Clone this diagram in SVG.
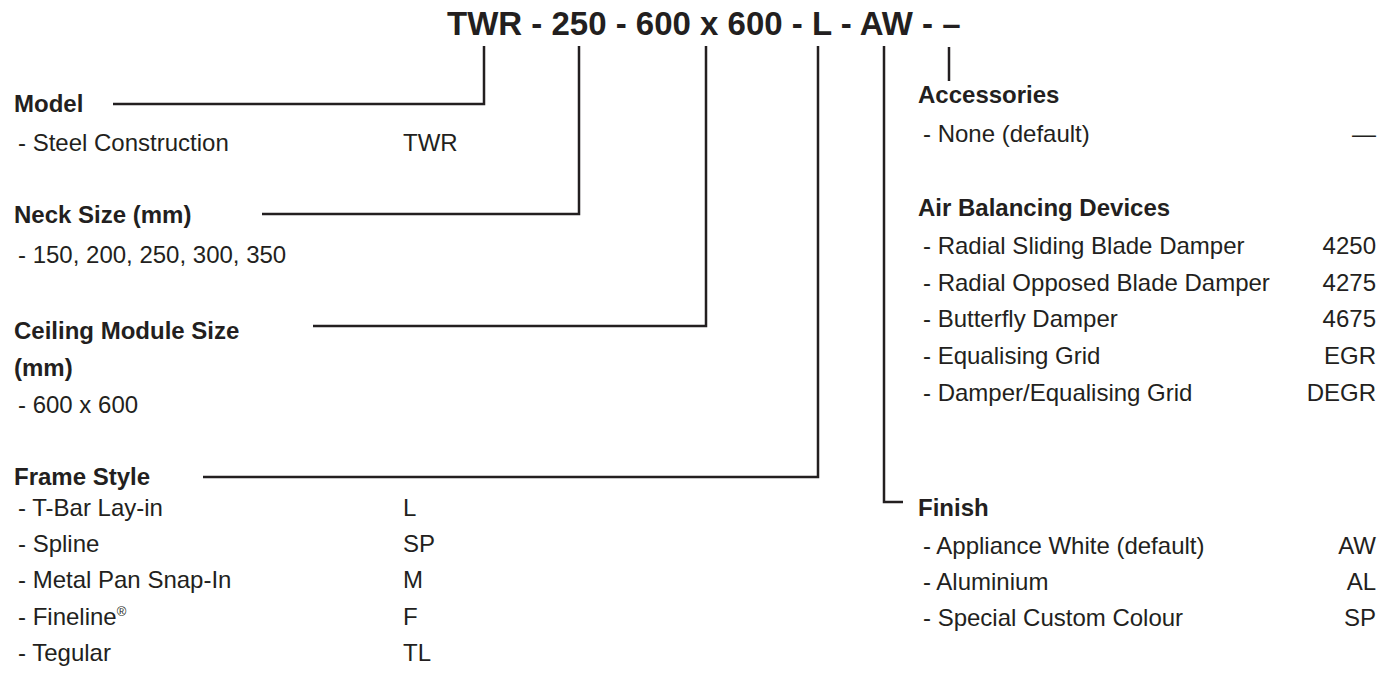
<svg xmlns="http://www.w3.org/2000/svg" width="1392" height="679" viewBox="0 0 1392 679">
<style>
text{font-family:"Liberation Sans",Arial,sans-serif;fill:#231f20}
.t{font-size:33px;font-weight:bold}
.h{font-size:24px;font-weight:bold}
.i{font-size:24px}
.v{font-size:24px;text-anchor:end}
.c{fill:none;stroke:#231f20;stroke-width:2.5}
</style>
<rect width="1392" height="679" fill="#fff"/>
<g id="title"><text class="t" x="447" y="35">TWR - 250 - 600 x 600 - L - AW - –</text></g>
<g id="connectors">
<polyline class="c" points="113,104 484,104 484,46"/>
<polyline class="c" points="262,214 579,214 579,46"/>
<polyline class="c" points="313,326 706,326 706,46"/>
<polyline class="c" points="203,477 818,477 818,46"/>
<polyline class="c" points="903,502 884,502 884,46"/>
<line class="c" x1="949" y1="47" x2="949" y2="81"/>
</g>
<g id="model">
<text class="h" x="14" y="112">Model</text>
<text class="i" x="18" y="151">- Steel Construction</text>
<text class="i" x="403" y="151">TWR</text>
</g>
<g id="neck">
<text class="h" x="14" y="223">Neck Size (mm)</text>
<text class="i" x="18" y="263">- 150, 200, 250, 300, 350</text>
</g>
<g id="ceiling">
<text class="h" x="14" y="339">Ceiling Module Size</text>
<text class="h" x="14" y="376">(mm)</text>
<text class="i" x="18" y="413">- 600 x 600</text>
</g>
<g id="frame">
<text class="h" x="14" y="485">Frame Style</text>
<text class="i" x="18" y="516">- T-Bar Lay-in</text>
<text class="i" x="403" y="516">L</text>
<text class="i" x="18" y="552">- Spline</text>
<text class="i" x="403" y="552">SP</text>
<text class="i" x="18" y="588">- Metal Pan Snap-In</text>
<text class="i" x="403" y="588">M</text>
<text class="i" x="18" y="625">- Fineline<tspan font-size="13" dy="-9">®</tspan></text>
<text class="i" x="403" y="625">F</text>
<text class="i" x="18" y="661">- Tegular</text>
<text class="i" x="403" y="661">TL</text>
</g>
<g id="accessories">
<text class="h" x="918" y="103">Accessories</text>
<text class="i" x="923" y="142">- None (default)</text>
<text class="v" x="1376" y="142">—</text>
</g>
<g id="air">
<text class="h" x="918" y="216">Air Balancing Devices</text>
<text class="i" x="923" y="254">- Radial Sliding Blade Damper</text>
<text class="v" x="1376" y="254">4250</text>
<text class="i" x="923" y="291">- Radial Opposed Blade Damper</text>
<text class="v" x="1376" y="291">4275</text>
<text class="i" x="923" y="327">- Butterfly Damper</text>
<text class="v" x="1376" y="327">4675</text>
<text class="i" x="923" y="364">- Equalising Grid</text>
<text class="v" x="1376" y="364">EGR</text>
<text class="i" x="923" y="401">- Damper/Equalising Grid</text>
<text class="v" x="1376" y="401">DEGR</text>
</g>
<g id="finish">
<text class="h" x="918" y="516">Finish</text>
<text class="i" x="923" y="554">- Appliance White (default)</text>
<text class="v" x="1376" y="554">AW</text>
<text class="i" x="923" y="590">- Aluminium</text>
<text class="v" x="1376" y="590">AL</text>
<text class="i" x="923" y="626">- Special Custom Colour</text>
<text class="v" x="1376" y="626">SP</text>
</g>
</svg>
